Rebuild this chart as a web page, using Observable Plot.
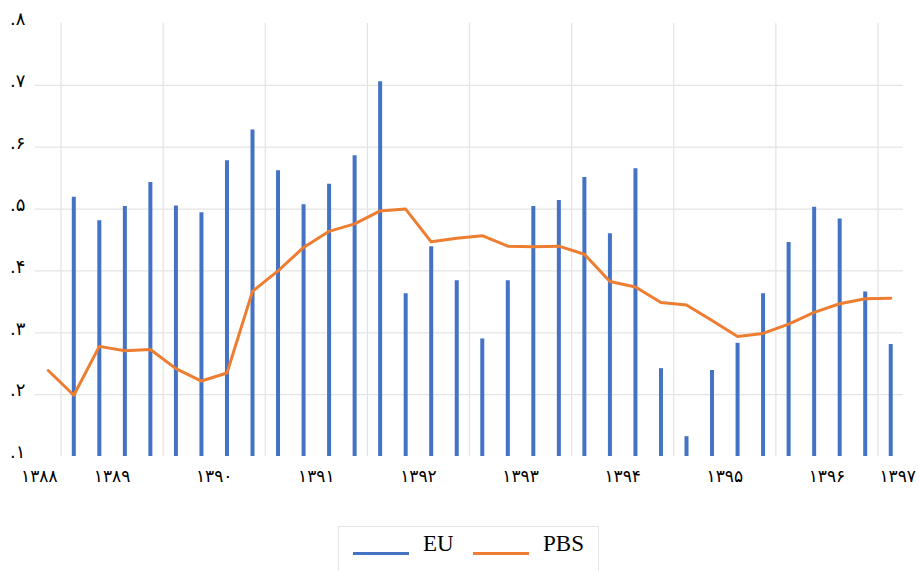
<!DOCTYPE html>
<html><head><meta charset="utf-8">
<script src="https://cdn.jsdelivr.net/npm/d3@7"></script>
<script src="https://cdn.jsdelivr.net/npm/@observablehq/plot@0.6"></script>
<style>
body{margin:0;background:#fff;}
#wrap{position:relative;width:919px;height:571px;overflow:hidden;}
#legend{position:absolute;left:338px;top:526px;width:261px;height:60px;border:1px solid #e4e4e4;box-sizing:border-box;font-family:"Liberation Serif","Times New Roman",serif;font-size:23px;color:#000;}
#legend .sw{position:absolute;top:25px;width:56px;height:3px;}
#legend .lb{position:absolute;top:5px;line-height:24px;}
</style></head><body>
<div id="wrap">
<div id="chart"></div>
<div id="legend">
  <div class="sw" style="left:14px;background:#4472C4"></div><div class="lb" style="left:84px">EU</div>
  <div class="sw" style="left:134px;background:#ED7D31"></div><div class="lb" style="left:204px">PBS</div>
</div>
</div>
<script>
// Year labels (Persian calendar); period 0 = last quarter of 1388, then 4 quarters per year
const years = ["۱۳۸۸","۱۳۸۹","۱۳۹۰","۱۳۹۱","۱۳۹۲","۱۳۹۳","۱۳۹۴","۱۳۹۵","۱۳۹۶","۱۳۹۷"];
// EU (bars), one value per period; period 0 has no bar
const eu = [null,0.519,0.481,0.504,0.543,0.505,0.494,0.578,0.628,0.562,
            0.507,0.540,0.586,0.706,0.363,0.439,0.384,0.290,0.384,0.504,
            0.514,0.551,0.460,0.565,0.242,0.132,0.239,0.283,0.363,0.446,
            0.503,0.484,0.366,0.281];
// PBS (line)
const pbs = [0.239,0.199,0.278,0.271,0.273,0.242,0.222,0.235,0.367,0.400,
             0.438,0.464,0.476,0.497,0.500,0.447,0.453,0.457,0.440,0.439,
             0.440,0.427,0.383,0.374,0.349,0.345,0.320,0.294,0.299,0.314,
             0.333,0.347,0.355,0.356];
const yTicks = [0.1,0.2,0.3,0.4,0.5,0.6,0.7,0.8];
const gridTicks = [0.2,0.3,0.4,0.5,0.6,0.7];

const fa = "۰۱۲۳۴۵۶۷۸۹";
const toFa = s => String(s).replace(/[0-9]/g, d => fa[+d]);
const fmtY = d => "." + toFa(Math.round(d * 10));

const n = pbs.length;
const yearIdx = i => Math.ceil(i / 4);
const euData = eu.map((v, i) => ({i, v})).filter(d => d.v != null);
const pbsData = pbs.map((v, i) => ({i, v}));
// boundaries between years
const bounds = d3.range(1, n).filter(i => yearIdx(i) !== yearIdx(i - 1)).map(i => i - 0.5);
// label position: centre of each year's periods
const labels = years.map((label, k) => {
  const idx = d3.range(n).filter(i => yearIdx(i) === k);
  return {label, x: d3.mean(idx), k};
});
const mid = labels.filter(d => d.k > 0 && d.k < years.length - 1);
const first = labels.filter(d => d.k === 0);
const last = labels.filter(d => d.k === years.length - 1);

const font = "'DejaVu Sans',serif";
const lblOpts = {y: 0.1, dy: 20, text: "label", fontSize: 17, fill: "#000"};

const chart = Plot.plot({
  width: 919, height: 515,
  marginLeft: 35, marginRight: 16, marginTop: 23, marginBottom: 59,
  style: {fontFamily: font, background: "#fff", overflow: "visible"},
  x: {domain: [-0.5, n - 0.5], axis: null},
  y: {domain: [0.1, 0.8], axis: null},
  marks: [
    Plot.ruleY(gridTicks, {stroke: "#e3e3e3", strokeWidth: 1.2}),
    Plot.ruleX(bounds, {y1: 0.1, y2: 0.8, stroke: "#e3e3e3", strokeWidth: 1.2}),
    Plot.ruleX(euData, {x: "i", y1: 0.1, y2: "v", stroke: "#4472C4", strokeWidth: 4}),
    Plot.line(pbsData, {x: "i", y: "v", stroke: "#ED7D31", strokeWidth: 3, strokeLinejoin: "round"}),
    Plot.text(yTicks, {x: -0.5, y: d => d, text: fmtY, dx: -10, dy: -4, textAnchor: "end", fontSize: 18, fill: "#000"}),
    Plot.text(mid, {...lblOpts, x: "x"}),
    Plot.text(first, {...lblOpts, x: "x", dx: -9}),
    Plot.text(last, {...lblOpts, x: "x", dx: 7})
  ]
});
document.getElementById("chart").appendChild(chart);
</script>
</body></html>
